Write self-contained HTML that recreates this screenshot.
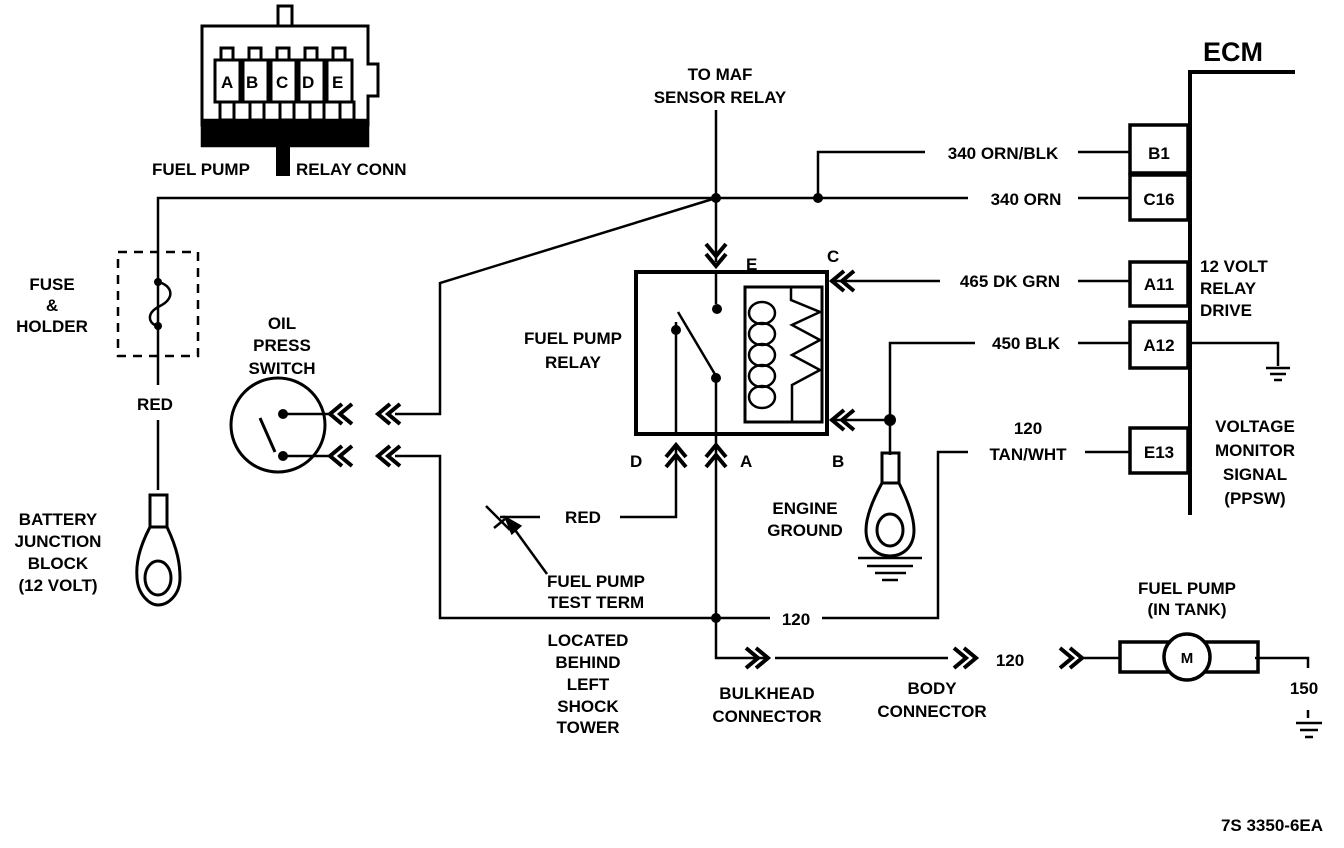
<!DOCTYPE html>
<html><head><meta charset="utf-8"><style>
html,body{margin:0;padding:0;background:#fff;}
svg{display:block;}
text{font-family:"Liberation Sans",sans-serif;font-weight:bold;font-size:17px;fill:#000;}
</style></head><body>
<svg width="1344" height="848" viewBox="0 0 1344 848" xmlns="http://www.w3.org/2000/svg">
<defs>
<path id="chL" d="M12,-10 L0,0 L12,10 M22,-10 L10,0 L22,10" fill="none" stroke="#000" stroke-width="4"/>
<path id="chR" d="M-12,-10 L0,0 L-12,10 M-22,-10 L-10,0 L-22,10" fill="none" stroke="#000" stroke-width="4"/>
<path id="chU" d="M-10,12 L0,0 L10,12 M-10,22 L0,10 L10,22" fill="none" stroke="#000" stroke-width="4"/>
<path id="chD" d="M-10,-12 L0,0 L10,-12 M-10,-22 L0,-10 L10,-22" fill="none" stroke="#000" stroke-width="4"/>
</defs>
<g fill="none" stroke="#000" stroke-width="2.5">
<rect x="278" y="6" width="14" height="20" stroke-width="3"/>
<path d="M202,26 H368 V64 H378 V96 H368 V125 H202 Z" stroke-width="3"/>
<rect x="202" y="120" width="166" height="26" fill="#000"/>
<rect x="276" y="146" width="14" height="30" fill="#000" stroke="none"/>
<g stroke-width="3">
<rect x="215" y="60" width="25" height="42"/><rect x="243" y="60" width="25" height="42"/><rect x="271" y="60" width="25" height="42"/><rect x="299" y="60" width="25" height="42"/><rect x="327" y="60" width="25" height="42"/>
<rect x="221" y="48" width="12" height="12"/><rect x="249" y="48" width="12" height="12"/><rect x="277" y="48" width="12" height="12"/><rect x="305" y="48" width="12" height="12"/><rect x="333" y="48" width="12" height="12"/>
<rect x="220" y="102" width="14" height="18"/><rect x="250" y="102" width="14" height="18"/><rect x="280" y="102" width="14" height="18"/><rect x="310" y="102" width="14" height="18"/><rect x="340" y="102" width="14" height="18"/>
</g>
<path d="M1190,515 V72 H1295" stroke-width="4"/>
<rect x="1130" y="125" width="58" height="48" stroke-width="3.5"/>
<rect x="1130" y="175" width="58" height="45" stroke-width="3.5"/>
<rect x="1130" y="262" width="58" height="44" stroke-width="3.5"/>
<rect x="1130" y="322" width="58" height="46" stroke-width="3.5"/>
<rect x="1130" y="428" width="58" height="45" stroke-width="3.5"/>
<path d="M158,385 V198 H968 M1078,198 H1130 M158,420 V490"/>
<path d="M818,198 V152 H925 M1078,152 H1130"/>
<path d="M716,110 V262"/>
<path d="M716,198 L440,283 V414 H395"/>
<path d="M395,456 H440 V618 H770 M822,618 H938 V452 H968 M1085,452 H1130"/>
<rect x="118" y="252" width="80" height="104" stroke-dasharray="9,7"/>
<path d="M158,282 C172,285 176,298 160,306 C144,314 150,325 158,326"/>
<rect x="150" y="495" width="17" height="32" stroke-width="3"/>
<path d="M150,527 C138,550 136,565 137,578 C138,595 150,605 158,605 C168,605 180,595 180,578 C180,565 178,550 167,527" stroke-width="3"/>
<ellipse cx="158" cy="578" rx="13" ry="17" stroke-width="3"/>
<circle cx="278" cy="425" r="47" stroke-width="3"/>
<path d="M283,414 H330 M283,456 H330"/>
<path d="M260,418 L275,452" stroke-width="3"/>
<rect x="636" y="272" width="191" height="162" stroke-width="4"/>
<rect x="745" y="287" width="77" height="135" stroke-width="3"/>
<path d="M716,272 V304 M716,376 V618 M676,446 V517 H620 M716,376 L678,312 M676,322 V434"/>
<path d="M791,287 V300 L820,312 L792,325 L820,340 L792,355 L820,370 L792,385 V422" stroke-width="2.5"/>
<ellipse cx="762" cy="313" rx="13" ry="11"/><ellipse cx="762" cy="334" rx="13" ry="11"/><ellipse cx="762" cy="355" rx="13" ry="11"/><ellipse cx="762" cy="376" rx="13" ry="11"/><ellipse cx="762" cy="397" rx="13" ry="11"/>
<path d="M830,281 H940 M1078,281 H1130"/>
<path d="M830,420 H890 M890,420 V343 H975 M1078,343 H1130 M890,420 V455"/>
<path d="M1188,343 H1278 V366 M1266,368 H1290 M1270,374 H1286 M1274,380 H1282"/>
<rect x="882" y="453" width="17" height="30" stroke-width="3"/>
<path d="M882,483 C870,505 866,520 866,530 C866,548 878,556 890,556 C902,556 914,548 914,530 C914,520 910,505 899,483" stroke-width="3"/>
<ellipse cx="890" cy="530" rx="13" ry="16" stroke-width="3"/>
<path d="M858,558 H922 M867,566 H913 M875,573 H906 M882,580 H898"/>
<path d="M500,517 H540 M486,506 L510,530 M494,528 L505,519"/>
<path d="M547,574 L510,523" /><path d="M506,518 L520,526 L512,533 Z" fill="#000"/>
<path d="M716,618 V658 H765 M775,658 H948 M1082,658 H1120 M1255,658 H1308 V668"/>
<rect x="1120" y="642" width="138" height="30" stroke-width="3.5"/>
<circle cx="1187" cy="657" r="23" fill="#fff" stroke-width="3.5"/>
<path d="M1308,710 V718 M1296,723 H1322 M1300,730 H1318 M1305,737 H1313"/>
</g>
<g fill="#000">
<circle cx="716" cy="198" r="5"/><circle cx="818" cy="198" r="5"/><circle cx="716" cy="618" r="5"/><circle cx="890" cy="420" r="6"/>
<circle cx="158" cy="282" r="4"/><circle cx="158" cy="326" r="4"/>
<circle cx="283" cy="414" r="5"/><circle cx="283" cy="456" r="5"/>
<circle cx="717" cy="309" r="5"/><circle cx="676" cy="330" r="5"/><circle cx="716" cy="378" r="5"/>
</g>
<use href="#chD" x="716" y="266"/>
<use href="#chL" x="832" y="281"/><use href="#chL" x="832" y="420"/>
<use href="#chU" x="676" y="445"/><use href="#chU" x="716" y="445"/>
<use href="#chL" x="330" y="414"/><use href="#chL" x="378" y="414"/>
<use href="#chL" x="330" y="456"/><use href="#chL" x="378" y="456"/>
<use href="#chR" x="768" y="658"/><use href="#chR" x="976" y="658"/><use href="#chR" x="1082" y="658"/>
<g>
<text x="221" y="88">A</text><text x="246" y="88">B</text><text x="276" y="88">C</text><text x="302" y="88">D</text><text x="332" y="88">E</text>
<text x="152" y="175">FUEL PUMP</text><text x="296" y="175">RELAY CONN</text>
<text x="1203" y="61" style="font-size:27px">ECM</text>
<text x="720" y="80" text-anchor="middle">TO MAF</text><text x="720" y="103" text-anchor="middle">SENSOR RELAY</text>
<text x="1003" y="159" text-anchor="middle">340 ORN/BLK</text><text x="1026" y="205" text-anchor="middle">340 ORN</text>
<text x="1159" y="159" text-anchor="middle">B1</text><text x="1159" y="205" text-anchor="middle">C16</text>
<text x="1159" y="290" text-anchor="middle">A11</text><text x="1159" y="351" text-anchor="middle">A12</text><text x="1159" y="458" text-anchor="middle">E13</text>
<text x="1010" y="287" text-anchor="middle">465 DK GRN</text><text x="1026" y="349" text-anchor="middle">450 BLK</text>
<text x="1028" y="434" text-anchor="middle">120</text><text x="1028" y="460" text-anchor="middle">TAN/WHT</text>
<text x="1200" y="272">12 VOLT</text><text x="1200" y="294">RELAY</text><text x="1200" y="316">DRIVE</text>
<text x="1255" y="432" text-anchor="middle">VOLTAGE</text><text x="1255" y="456" text-anchor="middle">MONITOR</text><text x="1255" y="480" text-anchor="middle">SIGNAL</text><text x="1255" y="504" text-anchor="middle">(PPSW)</text>
<text x="52" y="290" text-anchor="middle">FUSE</text><text x="52" y="311" text-anchor="middle">&amp;</text><text x="52" y="332" text-anchor="middle">HOLDER</text>
<text x="155" y="410" text-anchor="middle">RED</text>
<text x="58" y="525" text-anchor="middle">BATTERY</text><text x="58" y="547" text-anchor="middle">JUNCTION</text><text x="58" y="569" text-anchor="middle">BLOCK</text><text x="58" y="591" text-anchor="middle">(12 VOLT)</text>
<text x="282" y="329" text-anchor="middle">OIL</text><text x="282" y="351" text-anchor="middle">PRESS</text><text x="282" y="374" text-anchor="middle">SWITCH</text>
<text x="573" y="344" text-anchor="middle">FUEL PUMP</text><text x="573" y="368" text-anchor="middle">RELAY</text>
<text x="746" y="270">E</text><text x="827" y="262">C</text><text x="630" y="467">D</text><text x="740" y="467">A</text><text x="832" y="467">B</text>
<text x="583" y="523" text-anchor="middle">RED</text>
<text x="596" y="587" text-anchor="middle">FUEL PUMP</text><text x="596" y="608" text-anchor="middle">TEST TERM</text>
<text x="588" y="646" text-anchor="middle">LOCATED</text><text x="588" y="668" text-anchor="middle">BEHIND</text><text x="588" y="690" text-anchor="middle">LEFT</text><text x="588" y="712" text-anchor="middle">SHOCK</text><text x="588" y="733" text-anchor="middle">TOWER</text>
<text x="796" y="625" text-anchor="middle">120</text>
<text x="805" y="514" text-anchor="middle">ENGINE</text><text x="805" y="536" text-anchor="middle">GROUND</text>
<text x="767" y="699" text-anchor="middle">BULKHEAD</text><text x="767" y="722" text-anchor="middle">CONNECTOR</text>
<text x="932" y="694" text-anchor="middle">BODY</text><text x="932" y="717" text-anchor="middle">CONNECTOR</text>
<text x="1010" y="666" text-anchor="middle">120</text>
<text x="1187" y="594" text-anchor="middle">FUEL PUMP</text><text x="1187" y="615" text-anchor="middle">(IN TANK)</text>
<text x="1187" y="663" text-anchor="middle" style="font-size:15px">M</text>
<text x="1304" y="694" text-anchor="middle">150</text>
<text x="1272" y="831" text-anchor="middle">7S 3350-6EA</text>
</g>
</svg>
</body></html>
